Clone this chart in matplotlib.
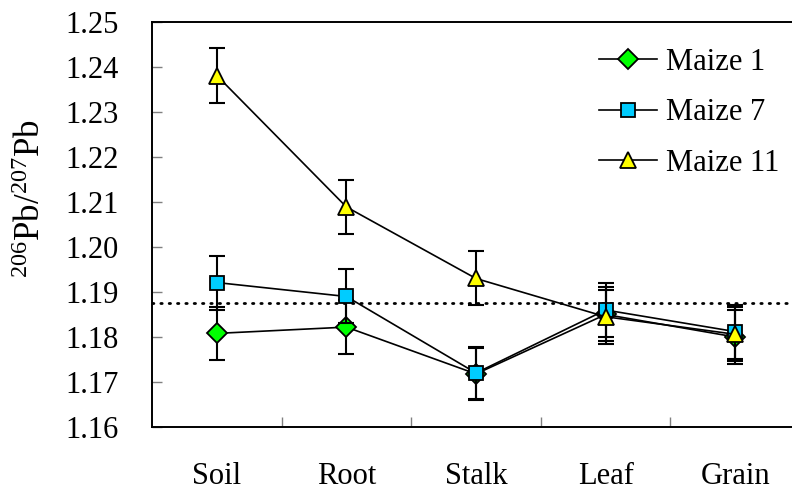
import numpy as np
import matplotlib
matplotlib.use('Agg')
import matplotlib.pyplot as plt

# Data
categories = ['Soil', 'Root', 'Stalk', 'Leaf', 'Grain']
maize1 = [1.1808, 1.1822, 1.1718, 1.1850, 1.1800]
maize1_err = [0.0059, 0.0060, 0.0058, 0.0060, 0.0059]
maize7 = [1.1921, 1.1890, 1.1720, 1.1860, 1.1812]
maize7_err = [0.0060, 0.0060, 0.0058, 0.0060, 0.0060]
maize11 = [1.2381, 1.2089, 1.1930, 1.1845, 1.1806]
maize11_err = [0.0062, 0.0060, 0.0060, 0.0060, 0.0060]
ref_value = 1.1876

plt.rcParams['font.family'] = ['Liberation Serif', 'DejaVu Serif']
plt.rcParams['mathtext.fontset'] = 'custom'
plt.rcParams['mathtext.rm'] = 'Liberation Serif'

fig = plt.figure(figsize=(7.92, 4.95), dpi=100)
ax = fig.add_axes([152 / 792, 1 - 427 / 495, 648 / 792, 405 / 495])

x = np.arange(len(categories))

series = [
    ('Maize 1', maize1, maize1_err, 'D', '#00FF00', 10.0),
    ('Maize 7', maize7, maize7_err, 's', '#00CCFF', 10.3),
    ('Maize 11', maize11, maize11_err, '^', '#FFFF00', 11.5),
]

z = 3
for name, vals, err, mk, col, ms in series:
    ax.errorbar(x, vals, yerr=err, fmt='none', ecolor='black', elinewidth=1.5,
                capsize=5.5, capthick=1.5, zorder=z)
    ax.plot(x, vals, '-', color='black', lw=1.2, marker=mk, markersize=ms,
            markerfacecolor=col, markeredgecolor='black', markeredgewidth=1.3,
            label=name, zorder=z + 0.5)
    z += 1

# reference line
ax.axhline(ref_value, color='black', lw=2.0, linestyle=(0, (0.5, 2.5)),
           dash_capstyle='round', zorder=2)

ax.set_xlim(-0.5, 4.5)
ax.set_ylim(1.16, 1.25)
yt = np.arange(1.16, 1.2501, 0.01)
ax.set_yticks(yt)
ax.set_yticklabels(['%.2f' % v for v in yt])
ax.set_xticks(x)
ax.set_xticklabels(categories)
ax.set_xticks(x[:-1] + 0.5, minor=True)

ax.tick_params(axis='y', direction='in', length=7, width=1, color='#808080',
               labelsize=22, pad=24)
ax.tick_params(axis='x', which='major', length=0, labelsize=22, pad=25)
ax.tick_params(axis='x', which='minor', direction='in', length=7, width=1,
               color='#808080')

for s in ax.spines.values():
    s.set_linewidth(1.4)

ax.set_ylabel(r'$\mathregular{^{206}Pb/^{207}Pb}$', fontsize=25)
ax.yaxis.set_label_coords(-0.16, 0.565)

ax.legend(loc='upper left', bbox_to_anchor=(599 / 792, 1 - 48 / 495),
          bbox_transform=fig.transFigure, frameon=False, fontsize=22,
          handlelength=1.9, handletextpad=0.3, labelspacing=0.7,
          borderpad=0, borderaxespad=0)

fig.savefig('out.png', dpi=100)
